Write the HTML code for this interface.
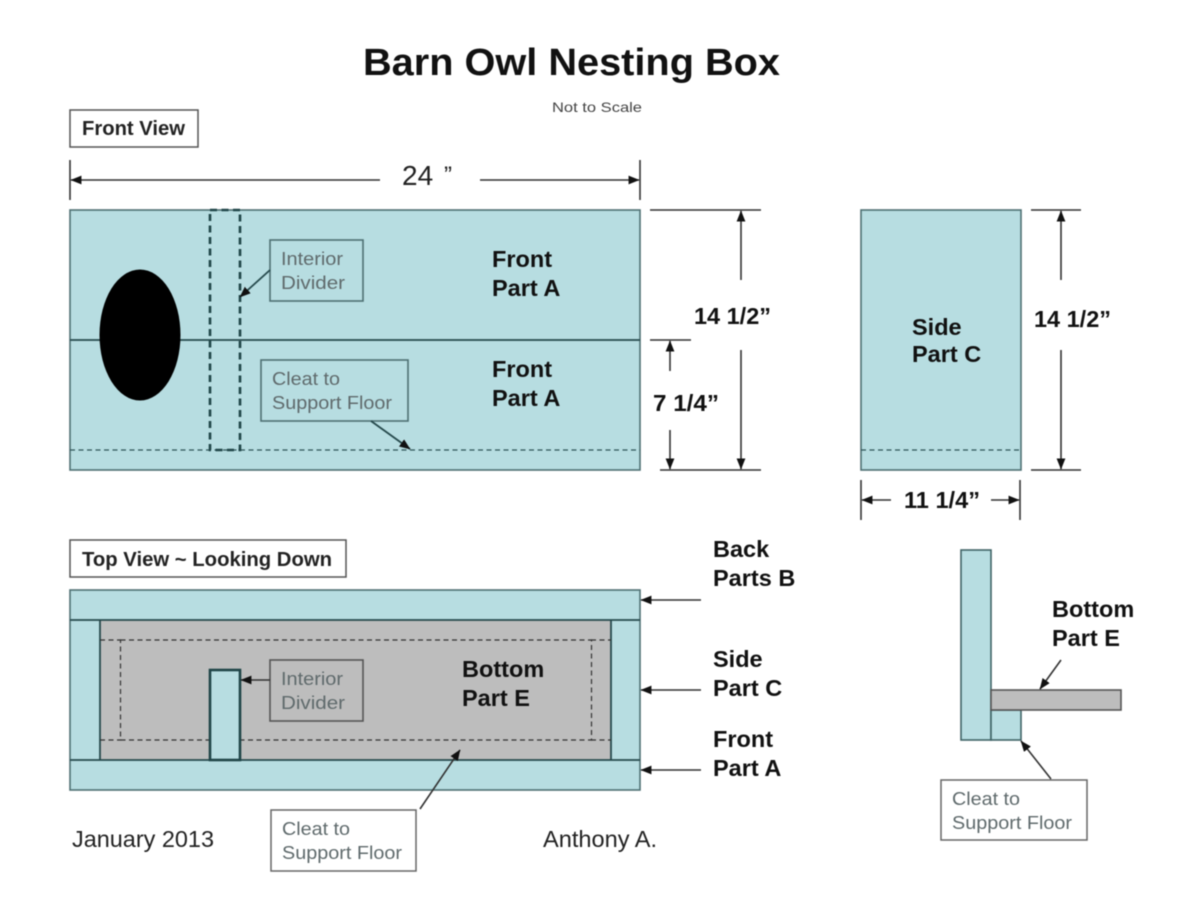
<!DOCTYPE html>
<html><head><meta charset="utf-8"><style>
html,body{margin:0;padding:0;background:#fff}
svg{display:block;filter:blur(.55px)}
text{font-family:"Liberation Sans",sans-serif;fill:#111}
.b{font-weight:bold;font-size:23.5px}
.dim{font-weight:bold;font-size:23px}
.m{font-size:18px;fill:#5f6a6c}
.l{fill:none;stroke:#333;stroke-width:1.6}
.s{stroke:#264a4d;stroke-width:1.8}
.d{fill:none;stroke:#2f5558;stroke-width:1.3;stroke-dasharray:5 3.5}
.g{fill:none;stroke:#333;stroke-width:1.2;stroke-dasharray:5 3.5}
</style></head><body>
<svg width="1200" height="899" viewBox="0 0 1200 899" xmlns="http://www.w3.org/2000/svg">
<defs>
<marker id="a" viewBox="0 0 10 8" refX="9.5" refY="4" markerWidth="11" markerHeight="9" markerUnits="userSpaceOnUse" orient="auto"><path d="M0 0L10 4L0 8Z" fill="#111"/></marker>
</defs>

<text x="363" y="75" style="font-size:38px;font-weight:bold" textLength="417" lengthAdjust="spacingAndGlyphs">Barn Owl Nesting Box</text>
<text x="552" y="112" style="font-size:14px;fill:#444" textLength="90" lengthAdjust="spacingAndGlyphs">Not to Scale</text>

<rect x="70" y="110" width="128" height="37" fill="#fff" stroke="#555" stroke-width="1.5"/>
<text x="82" y="135" style="font-size:20px;font-weight:bold;fill:#222" textLength="103" lengthAdjust="spacingAndGlyphs">Front View</text>

<line x1="70" y1="160" x2="70" y2="200" class="l"/>
<line x1="640" y1="160" x2="640" y2="200" class="l"/>
<line x1="380" y1="180" x2="71" y2="180" class="l" marker-end="url(#a)"/>
<line x1="480" y1="180" x2="639" y2="180" class="l" marker-end="url(#a)"/>
<text x="402" y="185" style="font-size:28px;fill:#222">24</text>
<text x="444" y="183" style="font-size:24px;fill:#222">”</text>

<!-- Front -->
<rect x="70" y="210" width="570" height="260" fill="#b7dde1" stroke="#4e7073" stroke-width="1.6"/>
<line x1="70" y1="340" x2="640" y2="340" class="s"/>
<ellipse cx="140" cy="335" rx="40.5" ry="65.5" fill="#000"/>
<line x1="70" y1="450" x2="640" y2="450" class="d"/>
<rect x="210" y="210" width="30" height="240" fill="none" stroke="#1f4548" stroke-width="2.6" stroke-dasharray="7 4.5"/>
<rect x="270" y="240" width="93" height="61" fill="#b7dde1" stroke="#4e7073" stroke-width="1.6"/>
<text x="281" y="265" class="m" textLength="62" lengthAdjust="spacingAndGlyphs">Interior</text>
<text x="281" y="289" class="m" textLength="64" lengthAdjust="spacingAndGlyphs">Divider</text>
<line x1="270" y1="270" x2="240" y2="297" class="s" marker-end="url(#a)"/>
<rect x="261" y="360" width="147" height="61" fill="#b7dde1" stroke="#4e7073" stroke-width="1.6"/>
<text x="272" y="385" class="m" textLength="68" lengthAdjust="spacingAndGlyphs">Cleat to</text>
<text x="272" y="409" class="m" textLength="120" lengthAdjust="spacingAndGlyphs">Support Floor</text>
<line x1="371" y1="421" x2="410" y2="449" class="s" marker-end="url(#a)"/>
<text x="492" y="267" class="b">Front</text>
<text x="492" y="296" class="b">Part A</text>
<text x="492" y="377" class="b">Front</text>
<text x="492" y="406" class="b">Part A</text>

<!-- front dims -->
<line x1="650" y1="210" x2="761" y2="210" class="l"/>
<line x1="650" y1="340" x2="691" y2="340" class="l"/>
<line x1="660" y1="470" x2="761" y2="470" class="l"/>
<line x1="741" y1="280" x2="741" y2="211" class="l" marker-end="url(#a)"/>
<line x1="741" y1="350" x2="741" y2="469" class="l" marker-end="url(#a)"/>
<line x1="670" y1="371" x2="670" y2="341" class="l" marker-end="url(#a)"/>
<line x1="670" y1="430" x2="670" y2="469" class="l" marker-end="url(#a)"/>
<text x="694" y="324" class="dim" textLength="77" lengthAdjust="spacingAndGlyphs">14 1/2”</text>
<text x="653" y="411" class="dim" textLength="66" lengthAdjust="spacingAndGlyphs">7 1/4”</text>

<!-- Side -->
<rect x="861" y="210" width="160" height="260" fill="#b7dde1" stroke="#4e7073" stroke-width="1.6"/>
<line x1="861" y1="450" x2="1021" y2="450" class="d"/>
<text x="912" y="335" class="b">Side</text>
<text x="912" y="362" class="b">Part C</text>
<line x1="1031" y1="210" x2="1081" y2="210" class="l"/>
<line x1="1031" y1="470" x2="1081" y2="470" class="l"/>
<line x1="1061" y1="280" x2="1061" y2="211" class="l" marker-end="url(#a)"/>
<line x1="1061" y1="350" x2="1061" y2="469" class="l" marker-end="url(#a)"/>
<text x="1034" y="327" class="dim" textLength="77" lengthAdjust="spacingAndGlyphs">14 1/2”</text>
<line x1="861" y1="480" x2="861" y2="520" class="l"/>
<line x1="1020" y1="480" x2="1020" y2="520" class="l"/>
<line x1="891" y1="500" x2="862" y2="500" class="l" marker-end="url(#a)"/>
<line x1="991" y1="500" x2="1019" y2="500" class="l" marker-end="url(#a)"/>
<text x="904" y="508" class="dim" textLength="76" lengthAdjust="spacingAndGlyphs">11 1/4”</text>

<!-- Top view -->
<rect x="70" y="540" width="276" height="37" fill="#fff" stroke="#555" stroke-width="1.5"/>
<text x="82" y="566" style="font-size:20px;font-weight:bold;fill:#222" textLength="250" lengthAdjust="spacingAndGlyphs">Top View ~ Looking Down</text>
<rect x="70" y="590" width="570" height="200" fill="#b7dde1" stroke="#4e7073" stroke-width="1.6"/>
<rect x="100" y="620" width="511" height="140" fill="#bdbdbd"/>
<line x1="70" y1="620" x2="640" y2="620" class="s"/>
<line x1="70" y1="760" x2="640" y2="760" class="s"/>
<line x1="100" y1="620" x2="100" y2="760" class="s"/>
<line x1="611" y1="620" x2="611" y2="760" class="s"/>
<rect x="120.500" y="640" width="471" height="100" class="g"/>
<line x1="100" y1="640" x2="121" y2="640" class="g"/>
<line x1="100" y1="740" x2="121" y2="740" class="g"/>
<line x1="591" y1="640" x2="611" y2="640" class="g"/>
<line x1="591" y1="740" x2="611" y2="740" class="g"/>
<rect x="210" y="670" width="30" height="90" fill="#b7dde1" stroke="#1f4548" stroke-width="2.6"/>
<rect x="270" y="660" width="93" height="61" fill="#bdbdbd" stroke="#555" stroke-width="1.6"/>
<text x="281" y="685" class="m" textLength="62" lengthAdjust="spacingAndGlyphs">Interior</text>
<text x="281" y="709" class="m" textLength="64" lengthAdjust="spacingAndGlyphs">Divider</text>
<line x1="270" y1="680" x2="241" y2="680" class="l" marker-end="url(#a)"/>
<text x="462" y="677" class="b">Bottom</text>
<text x="462" y="706" class="b">Part E</text>

<rect x="271" y="810" width="145" height="61" fill="#fff" stroke="#666" stroke-width="1.5"/>
<text x="282" y="835" class="m" textLength="68" lengthAdjust="spacingAndGlyphs">Cleat to</text>
<text x="282" y="859" class="m" textLength="120" lengthAdjust="spacingAndGlyphs">Support Floor</text>
<line x1="420" y1="809" x2="460" y2="750" class="l" marker-end="url(#a)"/>
<text x="72" y="847" style="font-size:23px;fill:#222" textLength="142" lengthAdjust="spacingAndGlyphs">January 2013</text>
<text x="543" y="847" style="font-size:23px;fill:#222" textLength="114" lengthAdjust="spacingAndGlyphs">Anthony A.</text>

<text x="713" y="557" class="b">Back</text>
<text x="713" y="586" class="b">Parts B</text>
<text x="713" y="667" class="b">Side</text>
<text x="713" y="696" class="b">Part C</text>
<text x="713" y="747" class="b">Front</text>
<text x="713" y="776" class="b">Part A</text>
<line x1="701" y1="600" x2="641" y2="600" class="l" marker-end="url(#a)"/>
<line x1="701" y1="690" x2="641" y2="690" class="l" marker-end="url(#a)"/>
<line x1="701" y1="770" x2="641" y2="770" class="l" marker-end="url(#a)"/>

<!-- Section -->
<rect x="961" y="550" width="30" height="190" fill="#b7dde1" stroke="#3f6366" stroke-width="1.6"/>
<rect x="991" y="710" width="30" height="30" fill="#b7dde1" stroke="#3f6366" stroke-width="1.6"/>
<rect x="991" y="690" width="130" height="20" fill="#bdbdbd" stroke="#555" stroke-width="1.6"/>
<text x="1052" y="617" class="b">Bottom</text>
<text x="1052" y="646" class="b">Part E</text>
<line x1="1061" y1="660" x2="1040" y2="689" class="l" marker-end="url(#a)"/>
<rect x="941" y="780" width="146" height="60" fill="#fff" stroke="#666" stroke-width="1.5"/>
<text x="952" y="805" class="m" textLength="68" lengthAdjust="spacingAndGlyphs">Cleat to</text>
<text x="952" y="829" class="m" textLength="120" lengthAdjust="spacingAndGlyphs">Support Floor</text>
<line x1="1051" y1="779" x2="1021" y2="741" class="l" marker-end="url(#a)"/>
</svg>
</body></html>
